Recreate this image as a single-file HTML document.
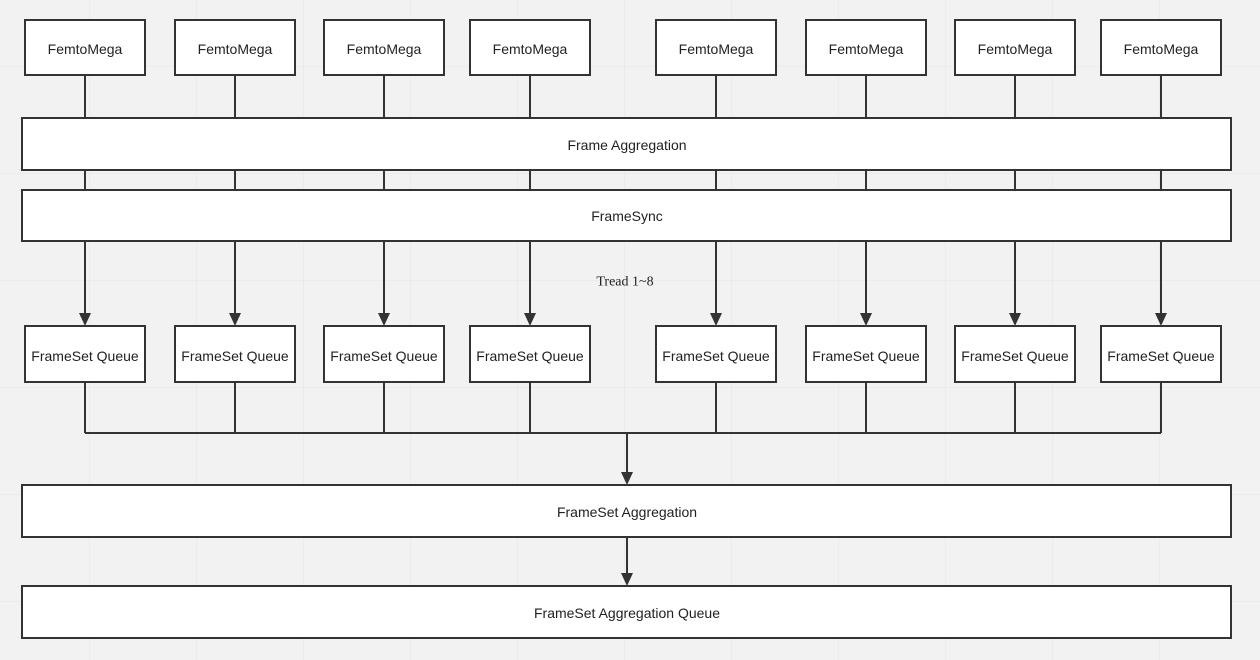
<!DOCTYPE html>
<html><head><meta charset="utf-8"><style>
html,body{margin:0;padding:0;background:#f2f2f2;}
svg{display:block}
text{font-family:"Liberation Sans","DejaVu Sans",sans-serif;font-size:14px;fill:#222;text-anchor:middle;dominant-baseline:central}
</style></head><body>
<svg width="1260" height="660" xmlns="http://www.w3.org/2000/svg">
<defs>
<pattern id="g" x="-17" y="-40" width="107" height="107" patternUnits="userSpaceOnUse">
<path d="M107 0V107M0 107H107" stroke="#e4e4e4" stroke-width="1" fill="none"/>
</pattern>
</defs>
<rect width="1260" height="660" fill="url(#g)"/>
<g stroke="#333" stroke-width="2" fill="none">
<path d="M85 75V190M235 75V190M384 75V190M530 75V190M716 75V190M866 75V190M1015 75V190M1161 75V190"/>
<path d="M85 241V315M235 241V315M384 241V315M530 241V315M716 241V315M866 241V315M1015 241V315M1161 241V315"/>
<path d="M85 382V433M235 382V433M384 382V433M530 382V433M716 382V433M866 382V433M1015 382V433M1161 382V433M85 433H1161"/>
<path d="M627 433V474M627 537V575"/>
</g>
<g fill="#333">
<path d="M79 313h12l-6 13z"/><path d="M229 313h12l-6 13z"/><path d="M378 313h12l-6 13z"/><path d="M524 313h12l-6 13z"/>
<path d="M710 313h12l-6 13z"/><path d="M860 313h12l-6 13z"/><path d="M1009 313h12l-6 13z"/><path d="M1155 313h12l-6 13z"/>
<path d="M621 472h12l-6 13z"/><path d="M621 573h12l-6 13z"/>
</g>
<g fill="#fff" stroke="#333" stroke-width="2">
<rect x="25" y="20" width="120" height="55"/><rect x="175" y="20" width="120" height="55"/>
<rect x="324" y="20" width="120" height="55"/><rect x="470" y="20" width="120" height="55"/>
<rect x="656" y="20" width="120" height="55"/><rect x="806" y="20" width="120" height="55"/>
<rect x="955" y="20" width="120" height="55"/><rect x="1101" y="20" width="120" height="55"/>
<rect x="22" y="118" width="1209" height="52"/>
<rect x="22" y="190" width="1209" height="51"/>
<rect x="25" y="326" width="120" height="56"/><rect x="175" y="326" width="120" height="56"/>
<rect x="324" y="326" width="120" height="56"/><rect x="470" y="326" width="120" height="56"/>
<rect x="656" y="326" width="120" height="56"/><rect x="806" y="326" width="120" height="56"/>
<rect x="955" y="326" width="120" height="56"/><rect x="1101" y="326" width="120" height="56"/>
<rect x="22" y="485" width="1209" height="52"/>
<rect x="22" y="586" width="1209" height="52"/>
</g>
<g>
<text x="85" y="49">FemtoMega</text><text x="235" y="49">FemtoMega</text><text x="384" y="49">FemtoMega</text><text x="530" y="49">FemtoMega</text>
<text x="716" y="49">FemtoMega</text><text x="866" y="49">FemtoMega</text><text x="1015" y="49">FemtoMega</text><text x="1161" y="49">FemtoMega</text>
<text x="627" y="145">Frame Aggregation</text>
<text x="627" y="216">FrameSync</text>
<text x="625" y="282" style="font-family:'Liberation Serif',serif;font-size:14px">Tread 1~8</text>
<text x="85" y="356">FrameSet Queue</text><text x="235" y="356">FrameSet Queue</text><text x="384" y="356">FrameSet Queue</text><text x="530" y="356">FrameSet Queue</text>
<text x="716" y="356">FrameSet Queue</text><text x="866" y="356">FrameSet Queue</text><text x="1015" y="356">FrameSet Queue</text><text x="1161" y="356">FrameSet Queue</text>
<text x="627" y="512">FrameSet Aggregation</text>
<text x="627" y="613">FrameSet Aggregation Queue</text>
</g>
</svg>
</body></html>
